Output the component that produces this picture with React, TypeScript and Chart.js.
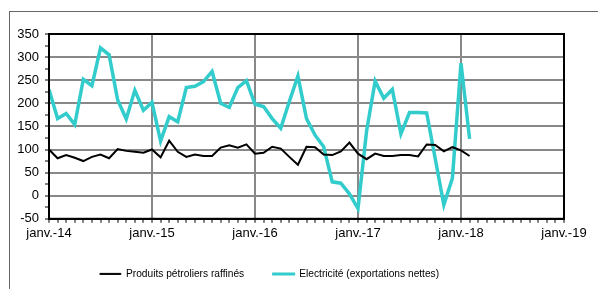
import React, { useEffect, useRef } from 'react';
import { Chart, registerables } from 'chart.js';
Chart.register(...registerables);

const yearLabels = ['janv.-14', 'janv.-15', 'janv.-16', 'janv.-17', 'janv.-18', 'janv.-19'];
const seriesNames = ['Produits pétroliers raffinés', 'Electricité (exportations nettes)'];
const colors = ['#000000', '#33CCCC'];

// Monthly values, janv.-14 .. févr.-18
const petrole = [
  100, 81, 88, 82, 75, 84, 89, 81, 101, 97, 95, 93,
  100, 83, 119, 95, 84, 89, 86, 86, 104, 109, 104, 111,
  91, 93, 106, 102, 84, 67, 106, 105, 89, 88, 96, 115,
  91, 79, 91, 86, 86, 88, 88, 85, 111, 110, 96, 105,
  98, 86,
];
const electricite = [
  230, 167, 178, 154, 252, 238, 320, 305, 207, 166, 228, 185,
  202, 118, 171, 160, 234, 237, 247, 269, 200, 191, 234, 249,
  198, 193, 167, 146, 204, 259, 167, 131, 106, 30, 27, 4,
  -28, 140, 248, 211, 230, 134, 180, 180, 179, 80, -20, 38,
  287, 123,
];

const FONT = '"Liberation Sans", Arial, sans-serif';

export default function App() {
  const ref = useRef<HTMLCanvasElement>(null);
  useEffect(() => {
    const framePlugin = {
      id: 'frame',
      afterDatasetsDraw(chart: any) {
        const { ctx, chartArea: a } = chart;
        ctx.save();
        ctx.strokeStyle = '#000';
        ctx.lineWidth = 2;
        ctx.strokeRect(a.left, a.top, a.right - a.left, a.bottom - a.top);
        ctx.restore();
      },
    };
    const chart = new Chart(ref.current as HTMLCanvasElement, {
      type: 'line',
      data: {
        datasets: [
          {
            label: seriesNames[0],
            data: petrole.map((v, i) => ({ x: i, y: v })),
            borderColor: colors[0],
            backgroundColor: colors[0],
            borderWidth: 2,
            pointRadius: 0,
            tension: 0,
          },
          {
            label: seriesNames[1],
            data: electricite.map((v, i) => ({ x: i, y: v })),
            borderColor: colors[1],
            backgroundColor: colors[1],
            borderWidth: 3.5,
            pointRadius: 0,
            tension: 0,
          },
        ],
      },
      options: {
        responsive: false,
        animation: false,
        devicePixelRatio: 1,
        layout: { padding: { top: 22, right: 51, bottom: 0, left: 0 } },
        plugins: {
          tooltip: { enabled: false },
          legend: {
            position: 'bottom',
            labels: {
              boxWidth: 21,
              boxHeight: 1,
              padding: 29,
              color: '#000',
              font: { family: FONT, size: 10.2 },
              generateLabels: (c: any) =>
                (Chart.defaults.plugins.legend.labels as any).generateLabels(c).map((it: any, i: number) => ({
                  ...it,
                  lineWidth: i === 0 ? 1 : 2,
                  fillStyle: colors[i],
                  strokeStyle: colors[i],
                })),
            },
          },
        },
        scales: {
          x: {
            type: 'linear',
            min: 0,
            max: 60,
            afterFit: (s: any) => { s.height = 21; },
            ticks: {
              stepSize: 1,
              maxTicksLimit: 100,
              autoSkip: false,
              maxRotation: 0,
              minRotation: 0,
              padding: 3,
              color: '#000',
              font: { family: FONT, size: 13 },
              callback: (v: any) => (v % 12 === 0 ? yearLabels[v / 12] : ''),
            },
            grid: {
              color: (c: any) => (c.tick && c.tick.value % 12 === 0 ? '#888' : 'rgba(0,0,0,0)'),
              lineWidth: 2,
              tickColor: '#000',
              tickLength: 4,
              tickWidth: 1,
            },
            border: { color: '#000', width: 2 },
          },
          y: {
            min: -50,
            max: 350,
            afterFit: (s: any) => { s.width = 74; },
            ticks: {
              stepSize: 25,
              maxTicksLimit: 100,
              autoSkip: false,
              padding: 6,
              color: '#000',
              font: { family: FONT, size: 13 },
              callback: (v: any) => (v % 50 === 0 ? String(v) : ''),
            },
            grid: {
              color: (c: any) => (c.tick && c.tick.value % 50 === 0 ? '#888' : 'rgba(0,0,0,0)'),
              lineWidth: 2,
              tickColor: '#000',
              tickLength: 4,
              tickWidth: 1,
            },
            border: { color: '#000', width: 2 },
          },
        },
      } as any,
      plugins: [framePlugin],
    });
    return () => chart.destroy();
  }, []);

  return (
    <div style={{ position: 'fixed', left: 0, top: 0, width: 598, height: 289, overflow: 'hidden', background: '#fff' }}>
      <div style={{ position: 'absolute', left: 9, top: 11, width: 700, height: 400, border: '1px solid #666' }} />
      <div style={{ position: 'absolute', left: -25, top: 12, width: 640, height: 277 }}>
        <canvas ref={ref} width={640} height={277} style={{ width: 640, height: 277, display: 'block' }} />
      </div>
    </div>
  );
}
